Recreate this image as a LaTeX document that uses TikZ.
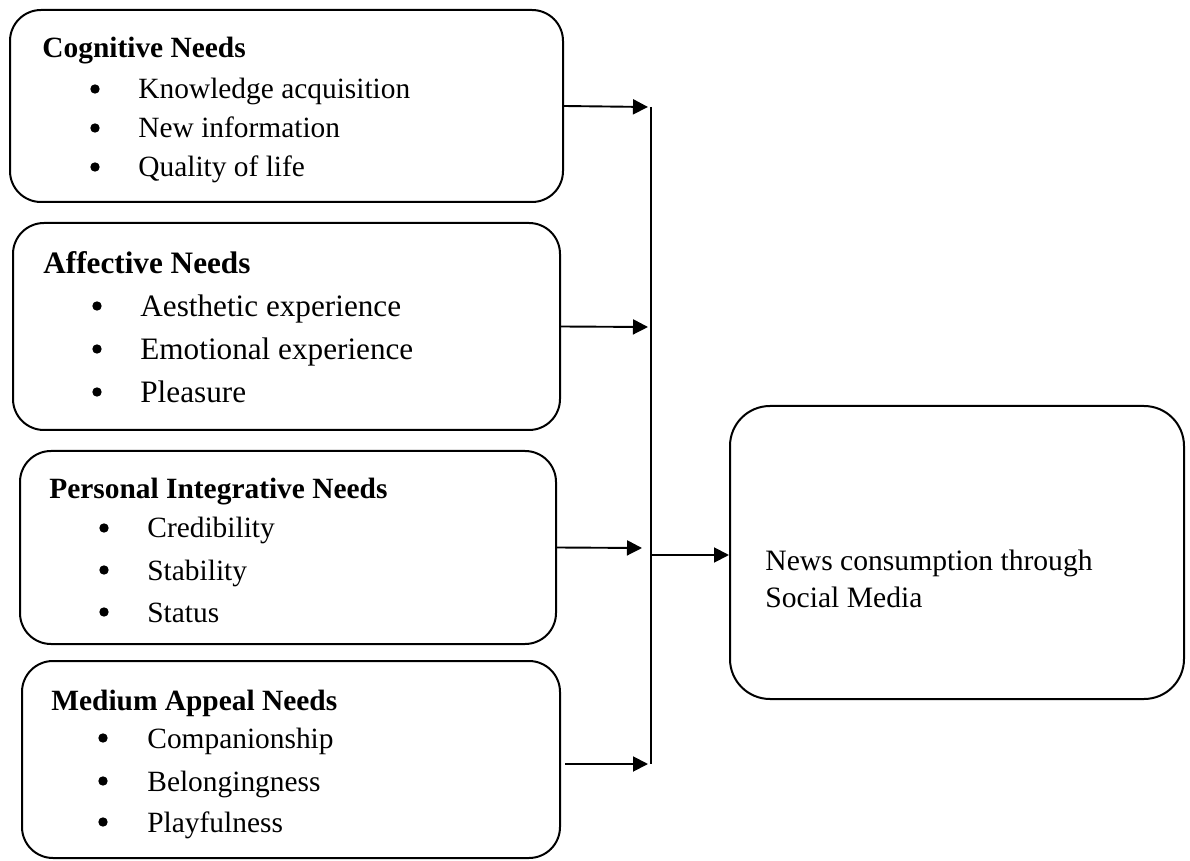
\documentclass[tikz,border=0pt]{standalone}
\usepackage{fontspec}
\setmainfont{Liberation Serif}
\usetikzlibrary{arrows.meta,fit}
\begin{document}
\begin{tikzpicture}[x=0.5pt,y=-0.5pt,
  needbox/.style={draw, line width=1pt, rounded corners=15.5pt, inner sep=0pt},
  outbox/.style={draw, line width=1pt, rounded corners=20pt, inner sep=0pt},
  headtxt/.style={anchor=base west, inner sep=0pt, font=\fontsize{14.7}{17}\selectfont\bfseries},
  itemtxt/.style={anchor=base west, inner sep=0pt, font=\fontsize{14.7}{17}\selectfont},
  headbig/.style={headtxt, font=\fontsize{15.6}{18}\selectfont\bfseries},
  itembig/.style={itemtxt, font=\fontsize{15.6}{18}\selectfont},
  bul/.style={circle, fill, inner sep=0pt, minimum size=4.7pt},
  flow/.style={line width=0.95pt, -{Triangle[length=7.5pt,width=7.5pt]}},
  spine/.style={line width=0.95pt}]
\useasboundingbox (0,0) rectangle (1190,861);

% boxes
\node[needbox, fit={(10,10) (563,202)}] (b1) {};
\node[needbox, fit={(13,223) (560,430)}] (b2) {};
\node[needbox, fit={(20,451) (556,644)}] (b3) {};
\node[needbox, fit={(22,661) (560,858)}] (b4) {};
\node[outbox, fit={(730,406) (1184,699)}] (out) {};

% box 1
\node[headtxt] (h1) at (42,58) {Cognitive Needs};
\node[bul] (b1a) at (95,89) {};
\node[itemtxt] (i1a) at (138,99) {Knowledge acquisition};
\node[bul] (b1b) at (95,128) {};
\node[itemtxt] (i1b) at (138,138) {New information};
\node[bul] (b1c) at (95,167) {};
\node[itemtxt] (i1c) at (138,177) {Quality of life};

% box 2
\node[headbig] (h2) at (43,274) {Affective Needs};
\node[bul] (b2a) at (97,306) {};
\node[itembig] (i2a) at (140,317) {Aesthetic experience};
\node[bul] (b2b) at (97,349) {};
\node[itembig] (i2b) at (140,360) {Emotional experience};
\node[bul] (b2c) at (97,392) {};
\node[itembig] (i2c) at (140,403) {Pleasure};

% box 3
\node[headtxt] (h3) at (49,498) {Personal Integrative Needs};
\node[bul] (b3a) at (104,528) {};
\node[itemtxt] (i3a) at (147,538) {Credibility};
\node[bul] (b3b) at (104,570) {};
\node[itemtxt] (i3b) at (147,580) {Stability};
\node[bul] (b3c) at (104,612) {};
\node[itemtxt] (i3c) at (147,622) {Status};

% box 4
\node[headtxt] (h4) at (51,710) {Medium Appeal Needs};
\node[bul] (b4a) at (103,738) {};
\node[itemtxt] (i4a) at (147,748) {Companionship};
\node[bul] (b4b) at (103,781) {};
\node[itemtxt] (i4b) at (147,791) {Belongingness};
\node[bul] (b4c) at (103,822) {};
\node[itemtxt] (i4c) at (147,832) {Playfulness};

% output text
\node[itemtxt, align=left, font=\fontsize{14.8}{18.5}\selectfont] (otxt) at (765,607) {News consumption through\\Social Media};

% connectors
\coordinate (top) at (651,107);
\coordinate (bot) at (651,764);
\coordinate (join) at (651,555);
\coordinate (e1) at (648,107);
\coordinate (e2) at (648,327);
\coordinate (e3) at (642,548);
\coordinate (s4) at (565,764);
\coordinate (e4) at (648,764);

\draw[spine] (top) -- (bot);
\draw[flow] (b1.east) -- (e1);
\draw[flow] (b2.east) -- (e2);
\draw[flow] (b3.east) -- (e3);
\draw[flow] (s4) -- (e4);
\draw[flow] (join) -- (join -| out.west);
\end{tikzpicture}
\end{document}
